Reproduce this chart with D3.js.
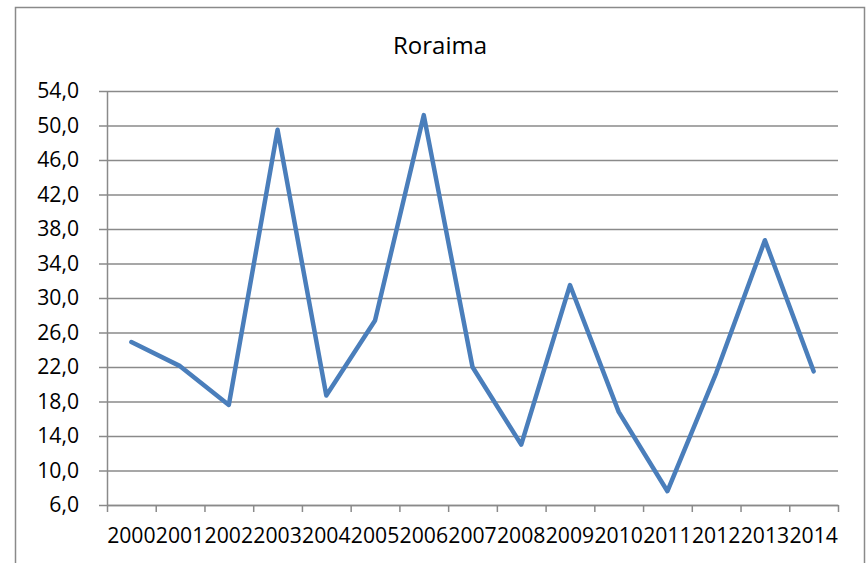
<!DOCTYPE html>
<html>
<head>
<meta charset="utf-8">
<script src="https://cdn.jsdelivr.net/npm/d3@7"></script>
<style>
  body { margin: 0; background: #fff; }
  svg { display: block; font-family: "Open Sans", sans-serif; }
</style>
</head>
<body>
<div id="chart"></div>
<script>
let years = ['2000', '2001', '2002', '2003', '2004', '2005', '2006', '2007',
    '2008', '2009', '2010', '2011', '2012', '2013', '2014'];
let values = [24.9, 22.1, 17.6, 49.5, 18.7, 27.4, 51.2, 22.0,
    13.0, 31.5, 16.8, 7.6, 21.3, 36.7, 21.5];
let yTicks = [6, 10, 14, 18, 22, 26, 30, 34, 38, 42, 46, 50, 54];
let title = 'Roraima';

let margin = { top: 91, right: 30, bottom: 58, left: 107 };
let width = 868 - margin.left - margin.right;   // 731
let height = 563 - margin.top - margin.bottom;  // 414

let svg = d3.select('#chart')
    .append('svg')
    .attr('width', 868)
    .attr('height', 563);

// outer chart border (bottom edge runs off the page)
svg.append('rect')
    .attr('x', 15.5)
    .attr('y', 7.5)
    .attr('width', 849)
    .attr('height', 600)
    .attr('fill', 'none')
    .attr('stroke', '#8a8a8a')
    .attr('stroke-width', 1.5);

svg.append('text')
    .attr('x', 440)
    .attr('y', 54)
    .attr('text-anchor', 'middle')
    .attr('font-size', '24px')
    .attr('fill', '#000')
    .text(title);

let g = svg.append('g')
    .attr('transform', 'translate(' + margin.left + ',' + margin.top + ')');

let x = d3.scaleBand().domain(years).range([0, width]).padding(0);
let xEdge = d3.scaleLinear().domain([0, years.length]).range([0, width]);
let y = d3.scaleLinear().domain([6, 54]).range([height, 0]);

// horizontal gridlines
g.append('g')
    .attr('class', 'grid')
    .call(d3.axisLeft(y).tickValues(yTicks).tickSize(-width).tickFormat(''))
    .call(function (s) { s.select('.domain').remove(); })
    .selectAll('line')
    .attr('stroke', '#8a8a8a')
    .attr('stroke-width', 1.5);

// y axis
let yAxis = g.append('g')
    .call(d3.axisLeft(y)
        .tickValues(yTicks)
        .tickSize(8)
        .tickSizeOuter(0)
        .tickPadding(20)
        .tickFormat(function (d) { return d3.format('.1f')(d).replace('.', ','); }));
yAxis.select('.domain').attr('stroke', '#8a8a8a').attr('stroke-width', 1.5);
yAxis.selectAll('line').attr('stroke', '#8a8a8a').attr('stroke-width', 1.5);
yAxis.selectAll('text').attr('font-size', '21.2px').attr('fill', '#000')
    .attr('font-family', '"Open Sans", sans-serif');

// x axis line and boundary ticks
let xAxis = g.append('g')
    .attr('transform', 'translate(0,' + height + ')')
    .call(d3.axisBottom(xEdge)
        .tickValues(d3.range(years.length + 1))
        .tickSize(7)
        .tickSizeOuter(0)
        .tickFormat(''));
xAxis.select('.domain').attr('stroke', '#8a8a8a').attr('stroke-width', 1.5);
xAxis.selectAll('line').attr('stroke', '#8a8a8a').attr('stroke-width', 1.5);

// x labels
let xLabels = g.append('g')
    .attr('transform', 'translate(0,' + height + ')')
    .call(d3.axisBottom(x).tickSize(0).tickPadding(23));
xLabels.select('.domain').remove();
xLabels.selectAll('text').attr('font-size', '21.2px').attr('fill', '#000')
    .attr('font-family', '"Open Sans", sans-serif');

// series line
let line = d3.line()
    .x(function (d, i) { return x(years[i]) + x.bandwidth() / 2; })
    .y(function (d) { return y(d); });

g.append('path')
    .datum(values)
    .attr('d', line)
    .attr('fill', 'none')
    .attr('stroke', '#4a7ebb')
    .attr('stroke-width', 4.5)
    .attr('stroke-linejoin', 'round')
    .attr('stroke-linecap', 'round');
</script>
</body>
</html>
